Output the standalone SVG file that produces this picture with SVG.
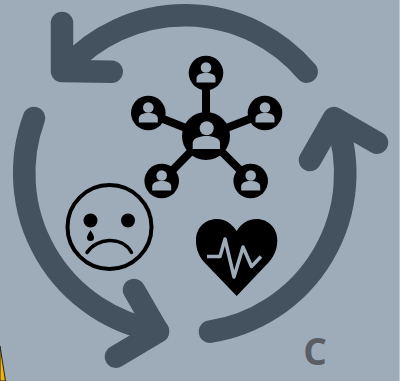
<svg xmlns="http://www.w3.org/2000/svg" width="400" height="381" viewBox="0 0 400 381">
<style>
.arrow{fill:none;stroke:#44525f;stroke-width:22.500;stroke-linecap:round;stroke-linejoin:round}
.link{stroke:#000;stroke-width:8}
.hub{fill:#000}
.p{fill:#9eacba}
.ink{fill:#000}
</style>
<defs>
<g id="person"><circle class="hub" r="17.300"/><circle class="p" cy="-5.500" r="5.300"/><path class="p" d="M-9.500 9.500V5.500C-9.500 1.500-5 0 0 0S9.500 1.500 9.500 5.500V9.500Z"/></g>
</defs>
<rect id="background" width="400" height="381" fill="#9eacba"/>
<rect id="edge" x="399" width="1" height="381" fill="#c3cad1"/>
<path id="sliver" d="M0 346L5.500 381H0Z" fill="#f4b400" stroke="#222" stroke-width="1"/>
<g id="connectors">
<path class="arrow" d="M306.700 71.700A160 160 0 0 0 66 68"/>
<path class="arrow" d="M62 23L62 71L111.700 71.700"/>
<path class="arrow" d="M34 118A160 160 0 0 0 158 331"/>
<path class="arrow" d="M134 290L158 331.700L116 356.700"/>
<path class="arrow" d="M210 331.700A160 160 0 0 0 336 120"/>
<path class="arrow" d="M310 160L334 118L377 142.700"/>
<g id="hub-links"><path class="link" d="M206 136L206 73M206 136L148 113M206 136L265 113M206 136L162 181M206 136L251 181"/></g>
</g>
<g id="hub"><circle class="hub" cx="206" cy="136" r="24"/><circle class="p" cx="206.700" cy="128.300" r="7"/><path class="p" d="M192.700 149V143C192.700 138 200 136 206.500 136S220 138 220 143V149Z"/></g>
<g id="person-top"><use href="#person" x="206" y="73"/></g>
<g id="person-left"><use href="#person" x="148.300" y="113"/></g>
<g id="person-right"><use href="#person" x="265" y="113"/></g>
<g id="person-bottom-left"><use href="#person" x="161.700" y="181"/></g>
<g id="person-bottom-right"><use href="#person" x="250.700" y="181"/></g>
<g id="sad-face">
<circle cx="109.500" cy="227" r="42" fill="none" stroke="#000" stroke-width="4"/>
<circle class="ink" cx="90.500" cy="220.500" r="7"/><circle class="ink" cx="128" cy="220.500" r="7"/>
<path class="ink" d="M90.500 230C88 234 87 236 87 237.500A3.500 3.500 0 0 0 94 237.500C94 236 93 234 90.500 230Z"/>
<path d="M87 252.500C96 238 122 235 131.500 252.500" fill="none" stroke="#000" stroke-width="3.500" stroke-linecap="round"/>
</g>
<g id="heart">
<path class="ink" d="M236.700 296L204 262C197 254 196 246 196 240C196 228 205 219 217 219C226 219 232 224 236.700 231C241 224 247 219 256.700 219C268 219 277.300 228 277.300 240C277.300 246 276 254 269 262Z"/>
<path d="M207 256.500H220L225 239L234 277L243 247L251.500 266.500L261 256.500" fill="none" stroke="#9eacba" stroke-width="3.500" stroke-linejoin="round"/>
</g>
<text id="label-c" x="315" y="365" text-anchor="middle" font-family="'Open Sans',sans-serif" font-weight="700" font-size="37" fill="#5a5e63">C</text>
</svg>
